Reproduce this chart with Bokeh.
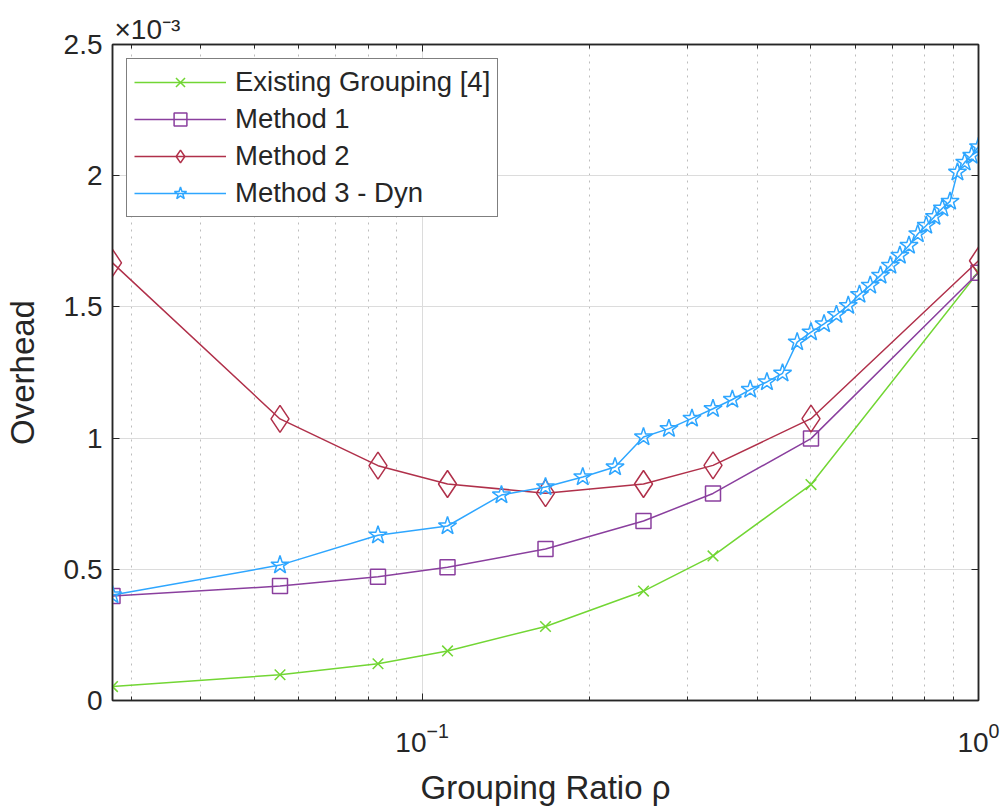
from bokeh.plotting import figure
from bokeh.models import (FixedTicker, LinearAxis, LogAxis, Legend, Title)
from bokeh.embed import file_html
from bokeh.resources import INLINE

# ---- data (overhead values in units of 1e-3) ----
x_main = [1/36, 2/36, 3/36, 4/36, 6/36, 9/36, 12/36, 18/36, 36/36]
existing = [0.053, 0.098, 0.140, 0.189, 0.282, 0.417, 0.551, 0.823, 1.633]
method1 = [0.398, 0.436, 0.472, 0.508, 0.577, 0.684, 0.789, 0.998, 1.630]
method2 = [1.668, 1.073, 0.895, 0.825, 0.790, 0.825, 0.896, 1.074, 1.676]

x_dyn = [1/36, 2/36, 3/36, 4/36, 5/36, 6/36, 7/36, 8/36, 9/36, 10/36,
         11/36, 12/36, 13/36, 14/36, 15/36, 16/36, 17/36, 18/36, 19/36, 20/36,
         21/36, 22/36, 23/36, 24/36, 25/36, 26/36, 27/36, 28/36, 29/36, 30/36,
         31/36, 32/36, 33/36, 34/36, 35/36, 36/36]
method3 = [0.402, 0.516, 0.630, 0.665, 0.783, 0.814, 0.852, 0.890, 1.004, 1.036,
           1.075, 1.112, 1.147, 1.185, 1.214, 1.247, 1.366, 1.404, 1.435, 1.470,
           1.505, 1.547, 1.582, 1.620, 1.658, 1.696, 1.734, 1.778, 1.810, 1.844,
           1.876, 1.902, 2.013, 2.051, 2.077, 2.110]

x_major = [0.1, 1.0]
x_minor = [0.03, 0.04, 0.05, 0.06, 0.07, 0.08, 0.09,
           0.2, 0.3, 0.4, 0.5, 0.6, 0.7, 0.8, 0.9]
y_ticks = [0, 0.5, 1, 1.5, 2, 2.5]

FONT = "Liberation Sans"
AX = "#262626"

p = figure(width=1004, height=809, x_axis_type="log",
           x_range=(1/36, 1.0), y_range=(0, 2.5),
           frame_width=866, frame_height=656,
           min_border_left=111, min_border_right=27,
           min_border_top=44, min_border_bottom=109,
           output_backend="svg", toolbar_location=None)

p.background_fill_color = "white"
p.border_fill_color = "white"
p.outline_line_color = AX
p.outline_line_width = 1.5

xt = FixedTicker(ticks=x_major, minor_ticks=x_minor)
yt = FixedTicker(ticks=y_ticks, minor_ticks=[])

def style_axis(ax, labels=True):
    ax.axis_line_color = AX
    ax.axis_line_width = 1.5
    ax.major_tick_line_color = AX
    ax.minor_tick_line_color = AX
    ax.major_tick_in = 7
    ax.major_tick_out = 0
    ax.minor_tick_in = 4
    ax.minor_tick_out = 0
    ax.major_label_text_font = FONT
    ax.major_label_text_font_size = "28px"
    if labels:
        ax.major_label_text_color = AX
        ax.major_label_standoff = 10
    else:
        ax.major_label_text_color = None
        ax.major_label_text_font_size = "2px"
        ax.major_label_standoff = 0

xa = p.xaxis[0]
xa.ticker = xt
style_axis(xa)
xa.major_label_standoff = 22
ya = p.yaxis[0]
ya.ticker = yt
style_axis(ya)
ya.minor_tick_in = 0

top = LogAxis(ticker=xt)
style_axis(top, labels=False)
p.add_layout(top, "above")
right = LinearAxis(ticker=yt)
style_axis(right, labels=False)
right.minor_tick_in = 0
p.add_layout(right, "right")

ya.axis_label = "Overhead"
ya.axis_label_text_font = FONT
ya.axis_label_text_font_size = "33px"
ya.axis_label_text_font_style = "normal"
ya.axis_label_text_color = AX
ya.axis_label_standoff = 20

xa.axis_label = "Grouping Ratio ρ"
xa.axis_label_text_font = FONT
xa.axis_label_text_font_size = "33px"
xa.axis_label_text_font_style = "normal"
xa.axis_label_text_color = AX
xa.axis_label_standoff = 14

p.xgrid.ticker = xt
p.ygrid.ticker = yt
p.xgrid.grid_line_color = "#dcdcdc"
p.ygrid.grid_line_color = "#dcdcdc"
p.xgrid.grid_line_width = 1
p.xgrid.minor_grid_line_color = "#bdbdbd"
p.xgrid.minor_grid_line_dash = "2 5"
p.xgrid.minor_grid_line_width = 1

GREEN = "#72D634"
PURPLE = "#8A3F9E"
RED = "#B0304A"
BLUE = "#2EA6FF"

r1 = p.line(x_main, existing, color=GREEN, line_width=1.5)
m1 = p.scatter(x_main, existing, marker="x", size=15, line_color=GREEN, line_width=1.5)
r2 = p.line(x_main, method1, color=PURPLE, line_width=1.5)
m2 = p.scatter(x_main, method1, marker="square", size=15, line_color=PURPLE,
               fill_color=None, line_width=1.5)
r3 = p.line(x_main, method2, color=RED, line_width=1.5)
m3 = p.scatter(x_main, method2, marker="diamond", size=27, line_color=RED,
               fill_color=None, line_width=1.5)
r4 = p.line(x_dyn, method3, color=BLUE, line_width=1.5)
m4 = p.scatter(x_dyn, method3, marker="star", size=19, line_color=BLUE,
               fill_color=None, line_width=1.5)

legend = Legend(items=[("Existing Grouping [4]", [r1, m1]),
                       ("Method 1", [r2, m2]),
                       ("Method 2", [r3, m3]),
                       ("Method 3 - Dyn", [r4, m4])],
                location="top_left")
legend.margin = 14
legend.padding = 7
legend.spacing = 5
legend.glyph_width = 92
legend.glyph_height = 32
legend.label_height = 32
legend.label_standoff = 9
legend.label_text_font = FONT
legend.label_text_font_size = "27.5px"
legend.label_text_color = AX
legend.border_line_color = "#000000"
legend.border_line_width = 1
legend.background_fill_color = "white"
legend.background_fill_alpha = 1
p.add_layout(legend, "center")

# multiplier of the y axis, above the plot frame
mult = Title(text="×10⁻³", align="left", offset=2, standoff=0,
             text_font=FONT, text_font_size="28px", text_font_style="normal",
             text_color=AX)
p.add_layout(mult, "above")

open("out.html", "w").write(file_html(p, INLINE))
